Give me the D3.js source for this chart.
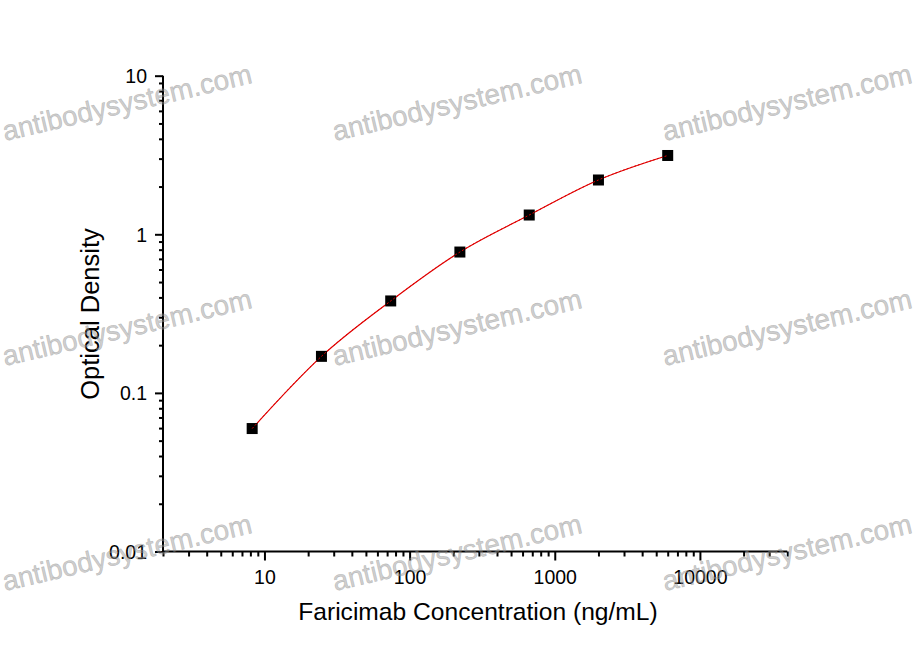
<!DOCTYPE html>
<html>
<head>
<meta charset="utf-8">
<script src="https://cdn.jsdelivr.net/npm/d3@7"></script>
<style>
  html, body { margin: 0; padding: 0; background: #fff; }
  svg { display: block; }
</style>
</head>
<body>
<svg id="chart" width="918" height="667"></svg>
<script>
// ---- data ----
const concentrations = [8.23, 24.7, 74.1, 222, 667, 2000, 6000];
const opticalDensity = [0.0596, 0.170, 0.380, 0.773, 1.323, 2.20, 3.14];
const xMajorTicks = [10, 100, 1000, 10000];
const xTickLabels = ["10", "100", "1000", "10000"];
const yMajorTicks = [0.01, 0.1, 1, 10];
const yTickLabels = ["0.01", "0.1", "1", "10"];
const xTitle = "Faricimab Concentration (ng/mL)";
const yTitle = "Optical Density";
const watermarkText = "antibodysystem.com";

(function () {
// ---- layout ----
const svg = d3.select("#chart");
const pLeft = 163, pRight = 787.3, pTop = 75.7, pBottom = 551.5;
const font = "'Liberation Sans', Arial, sans-serif";

const x = d3.scaleLog().domain([2, 40000]).range([pLeft, pRight]);
const y = d3.scaleLog().domain([0.01, 10]).range([pBottom, pTop]);

// minor ticks
const xMinor = [];
for (let d = 1; d <= 10000; d *= 10) for (let k = 2; k <= 9; k++) {
  const v = k * d; if (v >= 2 && v <= 40000 && xMajorTicks.indexOf(v) < 0) xMinor.push(v);
}
const yMinor = [];
for (let d = 0.01; d < 9; d *= 10) for (let k = 2; k <= 9; k++) yMinor.push(+(k * d).toPrecision(3));

// x axis
const gx = svg.append("g").attr("transform", `translate(0,${pBottom})`);
gx.call(d3.axisBottom(x).tickValues(xMinor).tickSize(5).tickFormat(""));
const gx2 = svg.append("g").attr("transform", `translate(0,${pBottom})`);
gx2.call(d3.axisBottom(x).tickValues(xMajorTicks).tickSize(9).tickSizeOuter(0)
  .tickFormat((d, i) => xTickLabels[i]));
[gx, gx2].forEach(g => {
  g.selectAll("path.domain").attr("stroke", "#000").attr("stroke-width", 2);
  g.selectAll(".tick line").attr("stroke", "#000").attr("stroke-width", 2);
});
gx.selectAll("path.domain").attr("d", `M${pLeft},0H${pRight}`);
gx2.selectAll("path.domain").remove();
gx2.selectAll(".tick text").attr("font-family", font).attr("font-size", 19.5)
  .attr("fill", "#000").attr("y", 19).attr("dy", "0.71em");

// y axis
const gy = svg.append("g").attr("transform", `translate(${pLeft},0)`);
gy.call(d3.axisLeft(y).tickValues(yMinor).tickSize(4).tickFormat(""));
const gy2 = svg.append("g").attr("transform", `translate(${pLeft},0)`);
gy2.call(d3.axisLeft(y).tickValues(yMajorTicks).tickSize(8).tickSizeOuter(0)
  .tickFormat((d, i) => yTickLabels[i]));
[gy, gy2].forEach(g => {
  g.selectAll("path.domain").attr("stroke", "#000").attr("stroke-width", 2);
  g.selectAll(".tick line").attr("stroke", "#000").attr("stroke-width", 2);
});
gy.selectAll("path.domain").attr("d", `M0,${pTop}V${pBottom + 1}`);
gy2.selectAll("path.domain").remove();
gy2.selectAll(".tick text").attr("font-family", font).attr("font-size", 19.5)
  .attr("fill", "#000").attr("x", -16).attr("dy", "0.35em");

// titles
svg.append("text").attr("x", 478).attr("y", 620).attr("text-anchor", "middle")
  .attr("font-family", font).attr("font-size", 24.6).attr("fill", "#000").text(xTitle);
svg.append("text").attr("transform", "translate(99,314) rotate(-90)")
  .attr("text-anchor", "middle").attr("font-family", font).attr("font-size", 25.5)
  .attr("fill", "#000").text(yTitle);

// curve
const pts = concentrations.map((c, i) => [c, opticalDensity[i]]);
const line = d3.line().x(d => x(d[0])).y(d => y(d[1])).curve(d3.curveMonotoneX);
svg.append("path").datum(pts).attr("d", line).attr("fill", "none")
  .attr("stroke", "#e00000").attr("stroke-width", 1.2);

// markers
const sz = 11;
svg.append("g").selectAll("rect").data(pts).join("rect")
  .attr("x", d => x(d[0]) - sz / 2).attr("y", d => y(d[1]) - sz / 2)
  .attr("width", sz).attr("height", sz).attr("fill", "#000");
// red line visible on top of markers
svg.append("path").datum(pts).attr("d", line).attr("fill", "none")
  .attr("stroke", "#e00000").attr("stroke-width", 1).attr("stroke-dasharray", "2,2");

// watermarks
const wmCols = [5, 335, 665];
const wmRows = [141, 366, 591];
const wm = svg.append("g");
wmRows.forEach(ry => wmCols.forEach(cx => {
  wm.append("text").attr("transform", `translate(${cx},${ry}) rotate(-13.2)`)
    .attr("font-family", font).attr("font-size", 28)
    .attr("fill", "#909090").attr("fill-opacity", 0.45)
    .attr("stroke", "#909090").attr("stroke-opacity", 0.45).attr("stroke-width", 0.6)
    .text(watermarkText);
}));
})();
</script>
</body>
</html>
